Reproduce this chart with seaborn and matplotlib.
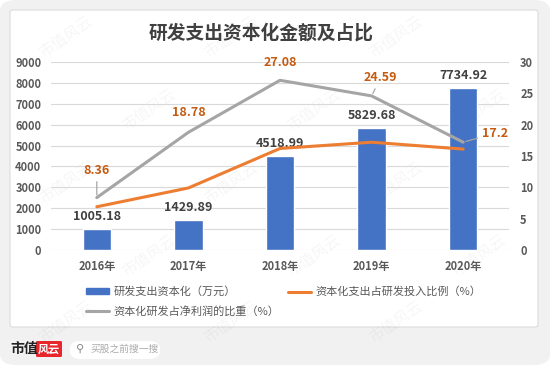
import numpy as np
import pandas as pd
import matplotlib
matplotlib.use("Agg")
import matplotlib.pyplot as plt
from matplotlib.patches import FancyBboxPatch, Patch
from matplotlib.lines import Line2D
import seaborn as sns

years = ["2016年", "2017年", "2018年", "2019年", "2020年"]
capex_amount = [1005.18, 1429.89, 4518.99, 5829.68, 7734.92]
capex_ratio_rd = [6.9, 9.9, 16.2, 17.2, 16.1]
capex_ratio_profit = [8.36, 18.78, 27.08, 24.59, 17.2]
left_ticks = [0, 1000, 2000, 3000, 4000, 5000, 6000, 7000, 8000, 9000]
right_ticks = [0, 5, 10, 15, 20, 25, 30]
legend_labels = ["研发支出资本化（万元）", "资本化支出占研发投入比例（%）", "资本化研发占净利润的比重（%）"]

sns.set_theme(style="white")
plt.rcParams['font.family'] = ['Noto Sans CJK SC', 'DejaVu Sans']

BLUE = "#4472C4"
ORANGE = "#ED7D31"
GRAY = "#A5A5A5"
TXT = "#595959"
LBL = "#404040"
ORLBL = "#C55A11"

fig = plt.figure(figsize=(5.5, 3.65), dpi=100)
fig.patch.set_facecolor("white")

# outer gray card
fig.patches.append(FancyBboxPatch((0, 0), 1, 1,
                                  boxstyle="round,pad=0,rounding_size=0.03",
                                  transform=fig.transFigure, facecolor="#f1f1f1",
                                  edgecolor="none", zorder=-3))
# white panel
fig.patches.append(FancyBboxPatch((10/550, 1-327/365), 528/550, 317/365,
                                  boxstyle="round,pad=0,rounding_size=0.006",
                                  transform=fig.transFigure, facecolor="white",
                                  edgecolor="#dcdcdc", linewidth=0.8, zorder=-2))

# watermarks (kept inside the figure)
wm_pos = [(0.12, 0.9), (0.42, 0.9), (0.72, 0.9), (0.27, 0.7), (0.57, 0.7), (0.87, 0.7),
          (0.12, 0.5), (0.42, 0.5), (0.72, 0.5), (0.27, 0.3), (0.57, 0.3), (0.87, 0.3),
          (0.12, 0.12), (0.42, 0.12), (0.72, 0.12)]
for xx, yy in wm_pos:
    fig.text(xx, yy, "市值风云", rotation=35, fontsize=11,
             color="#000000", alpha=0.04, ha="center", va="center", zorder=-1)

ax = fig.add_axes([51/550, 1-250/365, 458/550, 188/365])
ax.set_zorder(2)
ax.set_facecolor("none")
df = pd.DataFrame({"year": years, "amount": capex_amount})
sns.barplot(data=df, x="year", y="amount", color=BLUE, width=0.31,
            saturation=1, ax=ax, zorder=2)
ax.set_ylim(0, 9000)
ax.set_xlim(-0.5, 4.5)
ax.set_yticks(left_ticks)
ax.set_yticklabels([str(t) for t in left_ticks])
ax.yaxis.grid(True, color="#d9d9d9", linewidth=0.8, zorder=0)
ax.set_axisbelow(True)
for s in ax.spines.values():
    s.set_visible(False)
ax.set_xlabel("")
ax.set_ylabel("")
ax.tick_params(axis="both", length=0, labelsize=8, colors=TXT, pad=7)
for lab in ax.get_xticklabels() + ax.get_yticklabels():
    lab.set_fontweight("bold")
ax.tick_params(axis="y", pad=7)
for i, v in enumerate(capex_amount):
    ax.annotate(f"{v:.2f}", (i, v), xytext=(0, 9), textcoords="offset points",
                ha="center", va="center", fontsize=9, color=LBL, fontweight="bold")

ax2 = ax.twinx()
ax2.set_zorder(3)
ax2.set_facecolor("none")
x_idx = np.arange(len(years))
sns.lineplot(x=x_idx, y=capex_ratio_rd, color=ORANGE, linewidth=2.2, ax=ax2, zorder=3)
sns.lineplot(x=x_idx, y=capex_ratio_profit, color=GRAY, linewidth=2.2, ax=ax2, zorder=3)
ax2.set_ylim(0, 30)
ax2.set_xlim(-0.5, 4.5)
ax2.set_yticks(right_ticks)
ax2.set_yticklabels([str(t) for t in right_ticks])
ax2.grid(False)
for s in ax2.spines.values():
    s.set_visible(False)
ax2.tick_params(axis="y", length=0, labelsize=8, colors=TXT, pad=8)
for lab in ax2.get_yticklabels():
    lab.set_fontweight("bold")

offsets = [(0, 19.5), (0, 14), (0, 13), (6.5, 13), (23, 6.5)]
leaders = [True, False, False, True, True]
for i, (v, off, ld) in enumerate(zip(capex_ratio_profit, offsets, leaders)):
    ap = dict(arrowstyle="-", color=GRAY, lw=0.9, shrinkA=1, shrinkB=2) if ld else None
    ax2.annotate(f"{v:g}", (i, v), xytext=off,
                 textcoords="offset points", ha="center", va="center",
                 fontsize=9, color=ORLBL, fontweight="bold", arrowprops=ap)

# title
fig.text(261/550, 1-33/365, "研发支出资本化金额及占比", ha="center", va="center",
         fontsize=13.5, fontweight="bold", color="#404040")

# legend
handles = [Patch(facecolor=BLUE, edgecolor=BLUE),
           Line2D([0], [0], color=GRAY, lw=2.2),
           Line2D([0], [0], color=ORANGE, lw=2.2)]
labels = [legend_labels[0], legend_labels[2], legend_labels[1]]
fig.legend(handles, labels, loc="center left", bbox_to_anchor=(86/550, 1-301.5/365),
           ncol=2, frameon=False, fontsize=8, labelcolor=TXT,
           handlelength=2.1, handleheight=0.45, columnspacing=0.8,
           labelspacing=0.75, handletextpad=0.35, borderpad=0, borderaxespad=0)

# footer
fig.text(10/550, 1-349/365, "市值", ha="left", va="center", fontsize=10,
         fontweight="bold", color="#222222")
fig.patches.append(FancyBboxPatch((36/550, 1-357/365), 26/550, 16/365,
                                  boxstyle="round,pad=0,rounding_size=0.003",
                                  transform=fig.transFigure, facecolor="#e8262c",
                                  edgecolor="none"))
fig.text(49/550, 1-349/365, "风云", ha="center", va="center", fontsize=8,
         color="white", style="italic", fontweight="bold")
fig.patches.append(FancyBboxPatch((70/550, 1-359/365), 90/550, 18/365,
                                  boxstyle="round,pad=0,rounding_size=0.02",
                                  transform=fig.transFigure, facecolor="white",
                                  edgecolor="none"))
fig.text(76/550, 1-349/365, "⚲", ha="left", va="center", fontsize=8, color="#888888",
         family=['DejaVu Sans'])
fig.text(90/550, 1-349/365, "买股之前搜一搜", ha="left", va="center", fontsize=7,
         color="#aaaaaa")

fig.savefig("out.png", dpi=100, facecolor=fig.get_facecolor())
